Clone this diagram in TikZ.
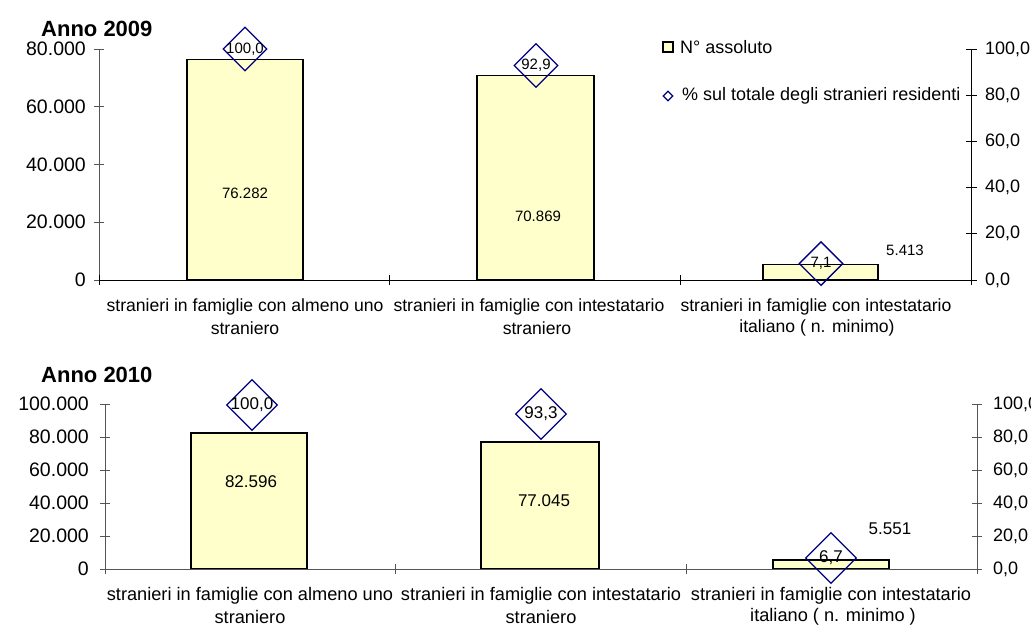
\documentclass[tikz,border=0pt]{standalone}
\usepackage{fontspec}
\setmainfont{Liberation Sans}
\usetikzlibrary{shapes.geometric}
\definecolor{baryellow}{HTML}{FFFFCC}
\definecolor{navyblue}{HTML}{000080}
\definecolor{axisgrey}{HTML}{555555}
\begin{document}
\begin{tikzpicture}[x=1pt,y=-1pt,
  bar/.style={draw=black, line width=1.6pt, fill=baryellow},
  dmark/.style={diamond, draw=navyblue, line width=1.3pt, inner sep=0pt, minimum width=#1, minimum height=#1},
  axisline/.style={draw=black, line width=0.8pt},
  greyaxis/.style={draw=axisgrey, line width=0.8pt},
  ticklab/.style={font=\fontsize{19.5}{22}\selectfont, inner sep=0pt},
  rticklab/.style={font=\fontsize{18}{21}\selectfont, inner sep=0pt},
  bigticklab/.style={font=\fontsize{19.5}{22}\selectfont, inner sep=0pt},
  catlab/.style={font=\fontsize{17.6}{21}\selectfont, inner sep=0pt},
  bigcatlab/.style={font=\fontsize{18.2}{21}\selectfont, inner sep=0pt},
  leglab/.style={font=\fontsize{18}{21}\selectfont, inner sep=0pt},
  datalab/.style={font=\fontsize{15}{18}\selectfont, inner sep=0pt},
  bigdatalab/.style={font=\fontsize{17}{20}\selectfont, inner sep=0pt},
  titlelab/.style={font=\fontsize{22}{25}\selectfont\bfseries, inner sep=0pt, anchor=west}]
\useasboundingbox (0,0) rectangle (1031,626);

% ================= Anno 2009 =================
\node[titlelab] (t1) at (41,29) {Anno 2009};

% bars
\draw[bar] (187,280) rectangle (303,59.7);
\draw[bar] (477,280) rectangle (594,75.4);
\draw[bar] (763,280) rectangle (878,264.4);

% axes
\draw[greyaxis] (99,49) -- (99,280);
\foreach \y/\l in {49/80.000,106.75/60.000,164.5/40.000,222.25/20.000,280/0}{
  \draw[greyaxis] (94,\y) -- (104,\y);
  \node[ticklab, anchor=east] at (86,\y) {\l};
}
\draw[axisline] (99,280) -- (971,280);
\foreach \x in {99,389.7,680.3,971}{\draw[axisline] (\x,275) -- (\x,285);}
\draw[axisline] (971,49) -- (971,280);
\foreach \y/\l in {49/{100,0},95.2/{80,0},141.4/{60,0},187.6/{40,0},233.8/{20,0},280/{0,0}}{
  \draw[axisline] (966,\y) -- (977,\y);
  \node[rticklab, anchor=west] at (985,\y) {\l};
}

% data labels
\node[datalab] (v1) at (245,193) {76.282};
\node[datalab] (v2) at (538,216) {70.869};
\node[datalab] (v3) at (905,250) {5.413};

% diamonds
\node[dmark=44pt] (d1) at (245,49) {};
\node[datalab] at (d1) {100,0};
\node[dmark=44pt] (d2) at (536,65.5) {};
\node[datalab] at (d2) {92,9};
\node[dmark=44pt] (d3) at (821,263.6) {};
\node[datalab] at (d3) {7,1};

% category labels
\node[catlab] at (245,307) {stranieri in famiglie con almeno uno};
\node[catlab] at (245,328) {straniero};
\node[catlab] at (529,307) {stranieri in famiglie con intestatario};
\node[catlab] at (537,328) {straniero};
\node[catlab] at (816,307) {stranieri in famiglie con intestatario};
\node[catlab] at (817,328) {italiano ( n. minimo)};

% legend
\draw[draw=black, line width=1.3pt, fill=baryellow] (663,42) rectangle (673,52);
\node[leglab, anchor=west] (l1) at (680,47) {N° assoluto};
\node[diamond, draw=navyblue, line width=1.2pt, inner sep=0pt, minimum width=10pt, minimum height=10pt] (ld) at (668,96) {};
\node[leglab, anchor=west] (l2) at (682,96) {\% sul totale degli stranieri residenti};

% ================= Anno 2010 =================
\node[titlelab] (t2) at (41,375) {Anno 2010};

\draw[bar] (191,569) rectangle (307,432.7);
\draw[bar] (481,569) rectangle (599,441.9);
\draw[bar] (773,569) rectangle (889,559.8);

\draw[greyaxis] (105,404) -- (105,569);
\foreach \y/\l in {404/100.000,437/80.000,470/60.000,503/40.000,536/20.000,569/0}{
  \draw[greyaxis] (100,\y) -- (110,\y);
  \node[bigticklab, anchor=east] at (89,\y) {\l};
}
\draw[greyaxis] (105,569) -- (977,569);
\foreach \x in {105,395.7,686.3,977}{\draw[greyaxis] (\x,564) -- (\x,574);}
\draw[greyaxis] (977,404) -- (977,569);
\foreach \y/\l in {404/{100,0},437/{80,0},470/{60,0},503/{40,0},536/{20,0},569/{0,0}}{
  \draw[greyaxis] (972,\y) -- (982,\y);
  \node[rticklab, anchor=west] at (993,\y) {\l};
}

\node[bigdatalab] (w1) at (251,482) {82.596};
\node[bigdatalab] (w2) at (544,501) {77.045};
\node[bigdatalab] (w3) at (890,529) {5.551};

\node[dmark=51pt] (e1) at (252,405) {};
\node[bigdatalab] at (e1) {100,0};
\node[dmark=51pt] (e2) at (541,414) {};
\node[bigdatalab] at (e2) {93,3};
\node[dmark=51pt] (e3) at (831,558) {};
\node[bigdatalab] at (e3) {6,7};

\node[bigcatlab] at (250,596) {stranieri in famiglie con almeno uno};
\node[bigcatlab] at (250,617) {straniero};
\node[bigcatlab] at (541,596) {stranieri in famiglie con intestatario};
\node[bigcatlab] at (541,617) {straniero};
\node[bigcatlab] at (831,596) {stranieri in famiglie con intestatario};
\node[bigcatlab] at (833,617) {italiano ( n. minimo )};
\end{tikzpicture}
\end{document}
